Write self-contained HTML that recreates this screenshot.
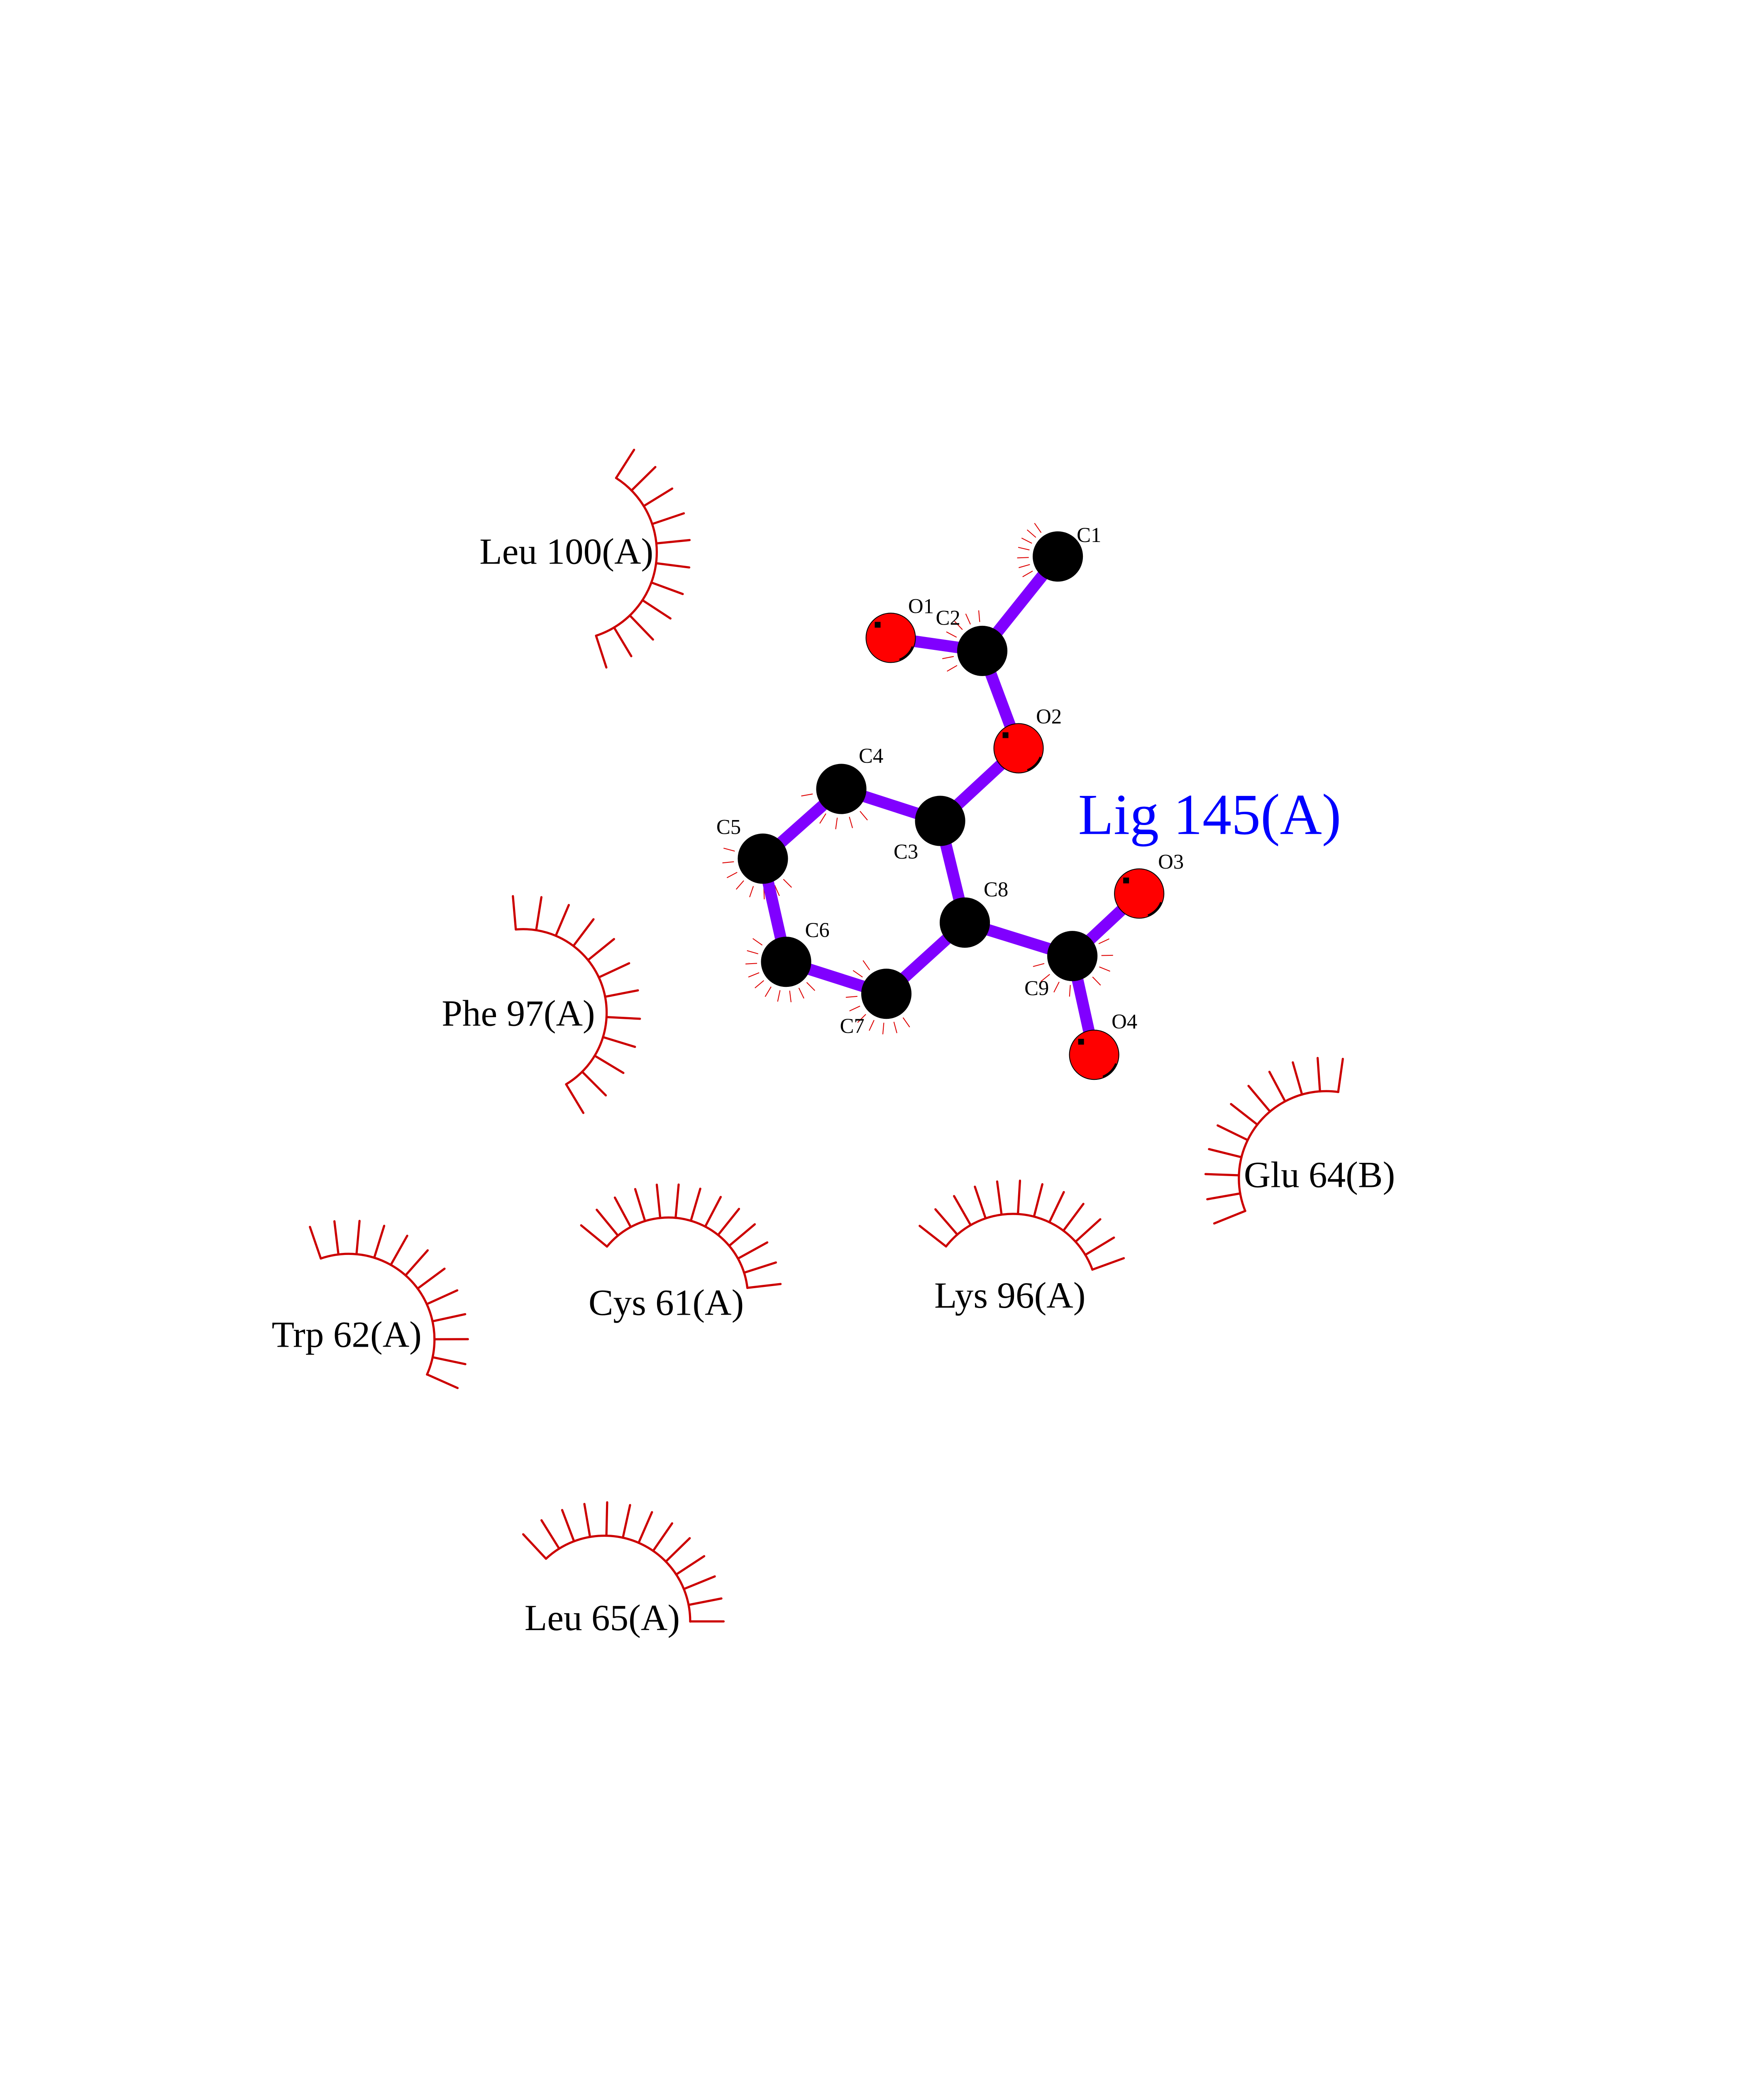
<!DOCTYPE html>
<html><head><meta charset="utf-8"><style>
html,body{margin:0;padding:0;background:#fff;overflow:hidden;width:4250px;height:5500px;position:relative;}
svg{display:block;position:absolute;left:0;top:0;}
text{font-family:"Liberation Serif",serif;}
</style></head><body>
<svg xmlns="http://www.w3.org/2000/svg" width="4250" height="5500" viewBox="0 0 1214 1571" overflow="hidden">
<rect width="1214" height="1571" fill="#fff"/>
<g stroke="#cc0000" stroke-width="1.5" fill="none" stroke-linecap="round">
<g transform="translate(391.5 380)">
<circle r="60.5" stroke-dasharray="136.7 1000" transform="rotate(302.5)"/>
<line x1="60.5" x2="83.5" transform="rotate(302.5)"/><line x1="60.5" x2="83.5" transform="rotate(315.45)"/><line x1="60.5" x2="83.5" transform="rotate(328.4)"/><line x1="60.5" x2="83.5" transform="rotate(341.35)"/><line x1="60.5" x2="83.5" transform="rotate(354.3)"/><line x1="60.5" x2="83.5" transform="rotate(367.25)"/><line x1="60.5" x2="83.5" transform="rotate(380.2)"/><line x1="60.5" x2="83.5" transform="rotate(393.15)"/><line x1="60.5" x2="83.5" transform="rotate(406.1)"/><line x1="60.5" x2="83.5" transform="rotate(419.05)"/><line x1="60.5" x2="83.5" transform="rotate(432)"/>
</g>
<g transform="translate(360 697)">
<circle r="57.5" stroke-dasharray="154.5 1000" transform="rotate(265)"/>
<line x1="57.5" x2="80.5" transform="rotate(265)"/><line x1="57.5" x2="80.5" transform="rotate(279)"/><line x1="57.5" x2="80.5" transform="rotate(293)"/><line x1="57.5" x2="80.5" transform="rotate(307)"/><line x1="57.5" x2="80.5" transform="rotate(321)"/><line x1="57.5" x2="80.5" transform="rotate(335)"/><line x1="57.5" x2="80.5" transform="rotate(349)"/><line x1="57.5" x2="80.5" transform="rotate(363)"/><line x1="57.5" x2="80.5" transform="rotate(377)"/><line x1="57.5" x2="80.5" transform="rotate(391)"/><line x1="57.5" x2="80.5" transform="rotate(405)"/><line x1="57.5" x2="80.5" transform="rotate(419)"/>
</g>
<g transform="translate(240 922)">
<circle r="59" stroke-dasharray="137 1000" transform="rotate(251)"/>
<line x1="59" x2="82" transform="rotate(251)"/><line x1="59" x2="82" transform="rotate(263.1)"/><line x1="59" x2="82" transform="rotate(275.2)"/><line x1="59" x2="82" transform="rotate(287.3)"/><line x1="59" x2="82" transform="rotate(299.4)"/><line x1="59" x2="82" transform="rotate(311.5)"/><line x1="59" x2="82" transform="rotate(323.5)"/><line x1="59" x2="82" transform="rotate(335.6)"/><line x1="59" x2="82" transform="rotate(347.7)"/><line x1="59" x2="82" transform="rotate(359.8)"/><line x1="59" x2="82" transform="rotate(371.9)"/><line x1="59" x2="82" transform="rotate(384)"/>
</g>
<g transform="translate(460 892.7)">
<circle r="54.7" stroke-dasharray="127.9 1000" transform="rotate(219.4)"/>
<line x1="54.7" x2="77.7" transform="rotate(219.4)"/><line x1="54.7" x2="77.7" transform="rotate(230.6)"/><line x1="54.7" x2="77.7" transform="rotate(241.7)"/><line x1="54.7" x2="77.7" transform="rotate(252.9)"/><line x1="54.7" x2="77.7" transform="rotate(264.1)"/><line x1="54.7" x2="77.7" transform="rotate(275.2)"/><line x1="54.7" x2="77.7" transform="rotate(286.4)"/><line x1="54.7" x2="77.7" transform="rotate(297.6)"/><line x1="54.7" x2="77.7" transform="rotate(308.7)"/><line x1="54.7" x2="77.7" transform="rotate(319.9)"/><line x1="54.7" x2="77.7" transform="rotate(331.1)"/><line x1="54.7" x2="77.7" transform="rotate(342.2)"/><line x1="54.7" x2="77.7" transform="rotate(353.4)"/>
</g>
<g transform="translate(697 893.8)">
<circle r="58.3" stroke-dasharray="124.1 1000" transform="rotate(218)"/>
<line x1="58.3" x2="81.3" transform="rotate(218)"/><line x1="58.3" x2="81.3" transform="rotate(229.1)"/><line x1="58.3" x2="81.3" transform="rotate(240.2)"/><line x1="58.3" x2="81.3" transform="rotate(251.3)"/><line x1="58.3" x2="81.3" transform="rotate(262.4)"/><line x1="58.3" x2="81.3" transform="rotate(273.5)"/><line x1="58.3" x2="81.3" transform="rotate(284.5)"/><line x1="58.3" x2="81.3" transform="rotate(295.6)"/><line x1="58.3" x2="81.3" transform="rotate(306.7)"/><line x1="58.3" x2="81.3" transform="rotate(317.8)"/><line x1="58.3" x2="81.3" transform="rotate(328.9)"/><line x1="58.3" x2="81.3" transform="rotate(340)"/>
</g>
<g transform="translate(912.6 811)">
<circle r="60" stroke-dasharray="125.7 1000" transform="rotate(158)"/>
<line x1="60" x2="83" transform="rotate(158)"/><line x1="60" x2="83" transform="rotate(170)"/><line x1="60" x2="83" transform="rotate(182)"/><line x1="60" x2="83" transform="rotate(194)"/><line x1="60" x2="83" transform="rotate(206)"/><line x1="60" x2="83" transform="rotate(218)"/><line x1="60" x2="83" transform="rotate(230)"/><line x1="60" x2="83" transform="rotate(242)"/><line x1="60" x2="83" transform="rotate(254)"/><line x1="60" x2="83" transform="rotate(266)"/><line x1="60" x2="83" transform="rotate(278)"/>
</g>
<g transform="translate(416 1116)">
<circle r="59" stroke-dasharray="137 1000" transform="rotate(227)"/>
<line x1="59" x2="82" transform="rotate(227)"/><line x1="59" x2="82" transform="rotate(238.1)"/><line x1="59" x2="82" transform="rotate(249.2)"/><line x1="59" x2="82" transform="rotate(260.3)"/><line x1="59" x2="82" transform="rotate(271.3)"/><line x1="59" x2="82" transform="rotate(282.4)"/><line x1="59" x2="82" transform="rotate(293.5)"/><line x1="59" x2="82" transform="rotate(304.6)"/><line x1="59" x2="82" transform="rotate(315.7)"/><line x1="59" x2="82" transform="rotate(326.8)"/><line x1="59" x2="82" transform="rotate(337.8)"/><line x1="59" x2="82" transform="rotate(348.9)"/><line x1="59" x2="82" transform="rotate(360)"/>
</g>
</g>
<g stroke="#dd0000" stroke-width="0.6">
<g transform="translate(728 383)"><line x1="20" x2="28" transform="rotate(150)"/><line x1="20" x2="28" transform="rotate(164)"/><line x1="20" x2="28" transform="rotate(178)"/><line x1="20" x2="28" transform="rotate(193)"/><line x1="20" x2="28" transform="rotate(207)"/><line x1="20" x2="28" transform="rotate(221)"/><line x1="20" x2="28" transform="rotate(235)"/></g>
<g transform="translate(676 448)"><line x1="20" x2="28" transform="rotate(150)"/><line x1="20" x2="28" transform="rotate(169)"/><line x1="20" x2="28" transform="rotate(188)"/><line x1="20" x2="28" transform="rotate(208)"/><line x1="20" x2="28" transform="rotate(227)"/><line x1="20" x2="28" transform="rotate(246)"/><line x1="20" x2="28" transform="rotate(265)"/></g>
<g transform="translate(579 543)"><line x1="20" x2="28" transform="rotate(50)"/><line x1="20" x2="28" transform="rotate(74)"/><line x1="20" x2="28" transform="rotate(98)"/><line x1="20" x2="28" transform="rotate(122)"/><line x1="20" x2="28" transform="rotate(146)"/><line x1="20" x2="28" transform="rotate(170)"/></g>
<g transform="translate(525 591)"><line x1="20" x2="28" transform="rotate(45)"/><line x1="20" x2="28" transform="rotate(66)"/><line x1="20" x2="28" transform="rotate(88)"/><line x1="20" x2="28" transform="rotate(109)"/><line x1="20" x2="28" transform="rotate(131)"/><line x1="20" x2="28" transform="rotate(152)"/><line x1="20" x2="28" transform="rotate(174)"/><line x1="20" x2="28" transform="rotate(195)"/></g>
<g transform="translate(541 662)"><line x1="20" x2="28" transform="rotate(45)"/><line x1="20" x2="28" transform="rotate(64)"/><line x1="20" x2="28" transform="rotate(83)"/><line x1="20" x2="28" transform="rotate(102)"/><line x1="20" x2="28" transform="rotate(121)"/><line x1="20" x2="28" transform="rotate(140)"/><line x1="20" x2="28" transform="rotate(158)"/><line x1="20" x2="28" transform="rotate(177)"/><line x1="20" x2="28" transform="rotate(196)"/><line x1="20" x2="28" transform="rotate(215)"/></g>
<g transform="translate(610 684)"><line x1="20" x2="28" transform="rotate(55)"/><line x1="20" x2="28" transform="rotate(75)"/><line x1="20" x2="28" transform="rotate(95)"/><line x1="20" x2="28" transform="rotate(115)"/><line x1="20" x2="28" transform="rotate(135)"/><line x1="20" x2="28" transform="rotate(155)"/><line x1="20" x2="28" transform="rotate(175)"/><line x1="20" x2="28" transform="rotate(195)"/><line x1="20" x2="28" transform="rotate(215)"/><line x1="20" x2="28" transform="rotate(235)"/></g>
<g transform="translate(738 658)"><line x1="20" x2="28" transform="rotate(-25)"/><line x1="20" x2="28" transform="rotate(-1)"/><line x1="20" x2="28" transform="rotate(22)"/><line x1="20" x2="28" transform="rotate(46)"/><line x1="20" x2="28" transform="rotate(70)"/><line x1="20" x2="28" transform="rotate(94)"/><line x1="20" x2="28" transform="rotate(117)"/><line x1="20" x2="28" transform="rotate(141)"/><line x1="20" x2="28" transform="rotate(165)"/></g>
</g>
<g stroke="#8000ff" stroke-width="8" stroke-linecap="butt">
<line x1="728" y1="383" x2="676" y2="448"/>
<line x1="613" y1="439" x2="676" y2="448"/>
<line x1="676" y1="448" x2="701" y2="515"/>
<line x1="701" y1="515" x2="647" y2="565"/>
<line x1="647" y1="565" x2="579" y2="543"/>
<line x1="579" y1="543" x2="525" y2="591"/>
<line x1="525" y1="591" x2="541" y2="662"/>
<line x1="541" y1="662" x2="610" y2="684"/>
<line x1="610" y1="684" x2="664" y2="635"/>
<line x1="664" y1="635" x2="647" y2="565"/>
<line x1="664" y1="635" x2="738" y2="658"/>
<line x1="738" y1="658" x2="784" y2="615"/>
<line x1="738" y1="658" x2="753" y2="726"/>
</g>
<g stroke="#000" stroke-width="0.6">
<circle cx="728" cy="383" r="17" fill="#000"/>
<circle cx="676" cy="448" r="17" fill="#000"/>
<circle cx="579" cy="543" r="17" fill="#000"/>
<circle cx="647" cy="565" r="17" fill="#000"/>
<circle cx="525" cy="591" r="17" fill="#000"/>
<circle cx="664" cy="635" r="17" fill="#000"/>
<circle cx="541" cy="662" r="17" fill="#000"/>
<circle cx="610" cy="684" r="17" fill="#000"/>
<circle cx="738" cy="658" r="17" fill="#000"/>
<circle cx="613" cy="439" r="17" fill="#ff0000"/>
<circle cx="701" cy="515" r="17" fill="#ff0000"/>
<circle cx="784" cy="615" r="17" fill="#ff0000"/>
<circle cx="753" cy="726" r="17" fill="#ff0000"/>
</g>
<g fill="none" stroke="#000" stroke-width="1.2">
<path d="M619,454 A16,16 0 0 0 628,445"/>
<path d="M707,530 A16,16 0 0 0 716,521"/>
<path d="M790,630 A16,16 0 0 0 799,621"/>
<path d="M759,741 A16,16 0 0 0 768,732"/>
</g>
<g fill="#000">
<rect x="602" y="428" width="4" height="4"/><rect x="690" y="504" width="4" height="4"/><rect x="773" y="604" width="4" height="4"/><rect x="742" y="715" width="4" height="4"/>
</g>
<g font-size="14.5" fill="#000">
<text x="741" y="373">C1</text>
<text x="625" y="422">O1</text>
<text x="644" y="430">C2</text>
<text x="713" y="498">O2</text>
<text x="591" y="525">C4</text>
<text x="493" y="574">C5</text>
<text x="615" y="591">C3</text>
<text x="677" y="617">C8</text>
<text x="554" y="645">C6</text>
<text x="797" y="598">O3</text>
<text x="705" y="685">C9</text>
<text x="578" y="711">C7</text>
<text x="765" y="708">O4</text>
</g>
<text x="742" y="574" font-size="40" fill="#0000ff">Lig 145(A)</text>
<g font-size="25.5" fill="#000">
<text x="330" y="388">Leu 100(A)</text>
<text x="304" y="706">Phe 97(A)</text>
<text x="187" y="927">Trp 62(A)</text>
<text x="405" y="905">Cys 61(A)</text>
<text x="643" y="900">Lys 96(A)</text>
<text x="856" y="817">Glu 64(B)</text>
<text x="361" y="1122">Leu 65(A)</text>
</g>
<text x="58" y="1467" font-size="14">.</text>
</svg>
</body></html>
